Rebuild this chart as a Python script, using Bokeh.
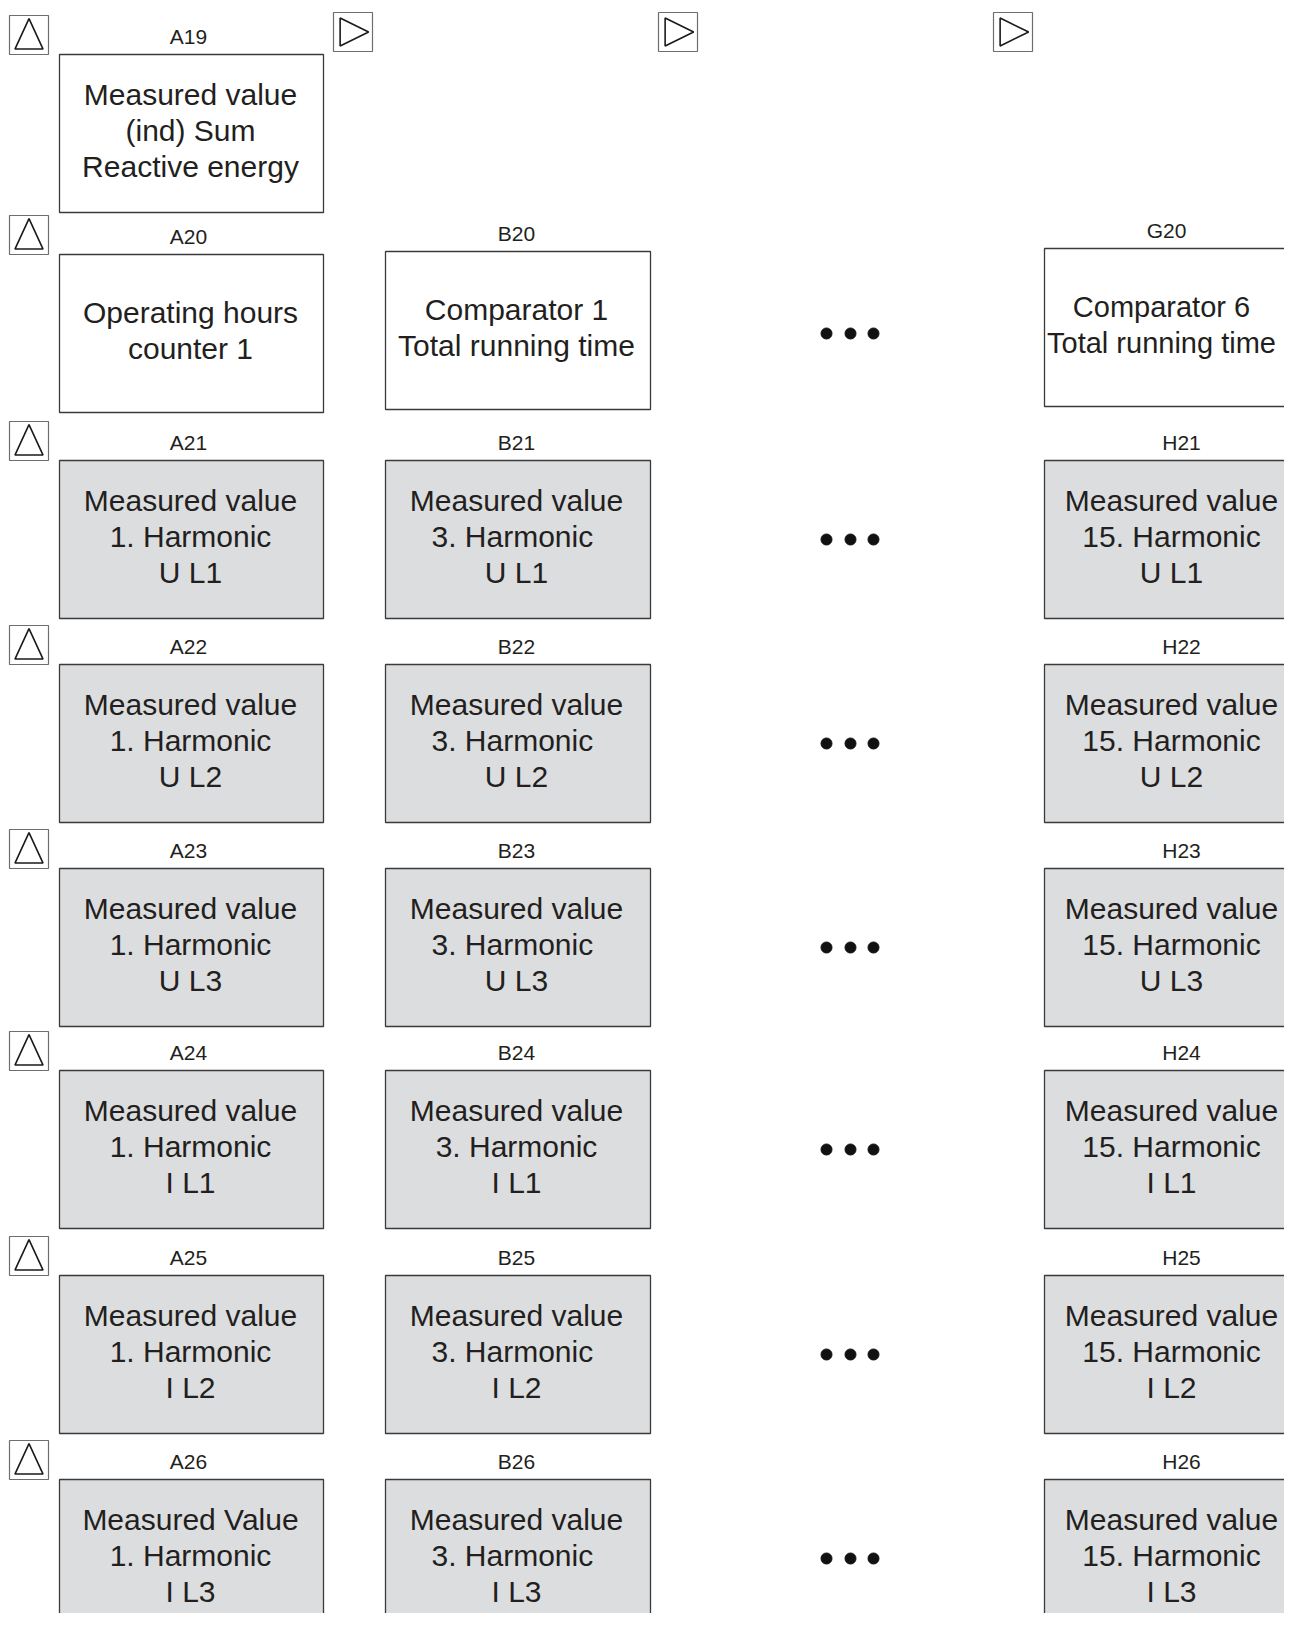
from bokeh.plotting import figure
from bokeh.models import Range1d, ColumnDataSource
from bokeh.core.properties import value
from bokeh.embed import file_html
from bokeh.resources import INLINE

# ---------------- data ----------------
cell_ids = ["A19",
            "A20", "B20", "G20",
            "A21", "B21", "H21",
            "A22", "B22", "H22",
            "A23", "B23", "H23",
            "A24", "B24", "H24",
            "A25", "B25", "H25",
            "A26", "B26", "H26"]
cell_lines = [
    ["Measured value", "(ind) Sum", "Reactive energy"],
    ["Operating hours", "counter 1"],
    ["Comparator 1", "Total running time"],
    ["Comparator 6", "Total running time"],
    ["Measured value", "1. Harmonic", "U L1"],
    ["Measured value", "3.  Harmonic", "U L1"],
    ["Measured value", "15. Harmonic", "U L1"],
    ["Measured value", "1. Harmonic", "U L2"],
    ["Measured value", "3.  Harmonic", "U L2"],
    ["Measured value", "15. Harmonic", "U L2"],
    ["Measured value", "1. Harmonic", "U L3"],
    ["Measured value", "3.  Harmonic", "U L3"],
    ["Measured value", "15. Harmonic", "U L3"],
    ["Measured value", "1. Harmonic", "I L1"],
    ["Measured value", "3. Harmonic", "I L1"],
    ["Measured value", "15. Harmonic", "I L1"],
    ["Measured value", "1. Harmonic", "I L2"],
    ["Measured value", "3.  Harmonic", "I L2"],
    ["Measured value", "15. Harmonic", "I L2"],
    ["Measured Value", "1. Harmonic", "I L3"],
    ["Measured value", "3.  Harmonic", "I L3"],
    ["Measured value", "15. Harmonic", "I L3"],
]
shaded_rows = [21, 22, 23, 24, 25, 26]
ellipsis_rows = [20, 21, 22, 23, 24, 25, 26]
all_rows = [19, 20, 21, 22, 23, 24, 25, 26]
arrow_columns = ["B", "G", "H"]

# ---------------- layout ----------------
ROW_TOP = {19: 54, 20: 253, 21: 460, 22: 664, 23: 868, 24: 1070, 25: 1275, 26: 1479}
ROW20_TOP = {"A": 254, "B": 251, "G": 248}
BOX_H = 158
COL_BOX = {"A": (59, 323), "B": (385, 650), "G": (1044, 1330), "H": (1044, 1330)}
TEXT_X = {"A": 190, "B": 516, "G": 1161, "H": 1171}
TEXT_SIZE = {"A": "30px", "B": "30px", "G": "29px", "H": "30px"}
LABEL_X = {"A": 188, "B": 516, "G": 1166, "H": 1181}
LINE_GAP = 36
ARROW_X = {"B": 333, "G": 658, "H": 993}
ICON = 39
DOT_X = [826, 850, 873]

W, H = 1284, 1613
p = figure(width=W, height=H, output_backend="svg", toolbar_location=None,
           x_range=Range1d(0, W), y_range=Range1d(H, 0),
           min_border=0, x_axis_location=None, y_axis_location=None)
p.grid.visible = False
p.outline_line_color = None
p.background_fill_color = "white"

FONT = value("Liberation Sans")

# boxes
bx0, bx1, by0, by1, bfill = [], [], [], [], []
tx, ty, tt, ts = [], [], [], []
lx, ly, lt = [], [], []
for cid, lines in zip(cell_ids, cell_lines):
    col, row = cid[0], int(cid[1:])
    top = ROW20_TOP[col] if row == 20 else ROW_TOP[row]
    x0, x1 = COL_BOX[col]
    bx0.append(x0); bx1.append(x1); by0.append(top); by1.append(top + BOX_H)
    bfill.append("#dcdddf" if row in shaded_rows else "white")
    cy = top + BOX_H / 2 - 3
    n = len(lines)
    for i, s in enumerate(lines):
        tx.append(TEXT_X[col]); ty.append(cy + (i - (n - 1) / 2) * LINE_GAP)
        tt.append(s); ts.append(TEXT_SIZE[col])
    lx.append(LABEL_X[col]); ly.append(top - 18); lt.append(cid)

p.quad(left=bx0, right=bx1, top=by0, bottom=by1, fill_color=bfill,
       line_color="#3a3a3a", line_width=1.3)
text_src = ColumnDataSource(dict(x=tx, y=ty, text=tt, size=ts))
p.text(x="x", y="y", text="text", source=text_src, text_font=FONT, text_font_size="size",
       text_align="center", text_baseline="middle", text_color="#231f20")
p.text(x=lx, y=ly, text=lt, text_font=FONT, text_font_size="21px",
       text_align="center", text_baseline="middle", text_color="#231f20")

# up-triangle icons
ix0, iy0, txs, tys = [], [], [], []
for r in all_rows:
    top = ROW_TOP[r] - 18 - 21 if r != 20 else ROW20_TOP["A"] - 18 - 21
    x0 = 9
    ix0.append(x0); iy0.append(top)
    txs.append([x0 + 0.14 * ICON, x0 + 0.5 * ICON, x0 + 0.86 * ICON])
    tys.append([top + 0.86 * ICON, top + 0.08 * ICON, top + 0.86 * ICON])
# right-arrow icons
for c in arrow_columns:
    x0, top = ARROW_X[c], 12
    ix0.append(x0); iy0.append(top)
    txs.append([x0 + 0.17 * ICON, x0 + 0.9 * ICON, x0 + 0.17 * ICON])
    tys.append([top + 0.14 * ICON, top + 0.5 * ICON, top + 0.86 * ICON])

p.quad(left=ix0, right=[v + ICON for v in ix0], top=iy0, bottom=[v + ICON for v in iy0],
       fill_color="white", line_color="#6e6e6e", line_width=1.2)
p.patches(xs=txs, ys=tys, fill_color=None, line_color="#1a1a1a", line_width=1.6)

# ellipsis dots
dx, dy = [], []
for r in ellipsis_rows:
    top = ROW20_TOP["A"] if r == 20 else ROW_TOP[r]
    for x in DOT_X:
        dx.append(x); dy.append(top + BOX_H / 2)
p.scatter(x=dx, y=dy, size=11, color="#111111")

open("out.html", "w").write(file_html(p, INLINE))
